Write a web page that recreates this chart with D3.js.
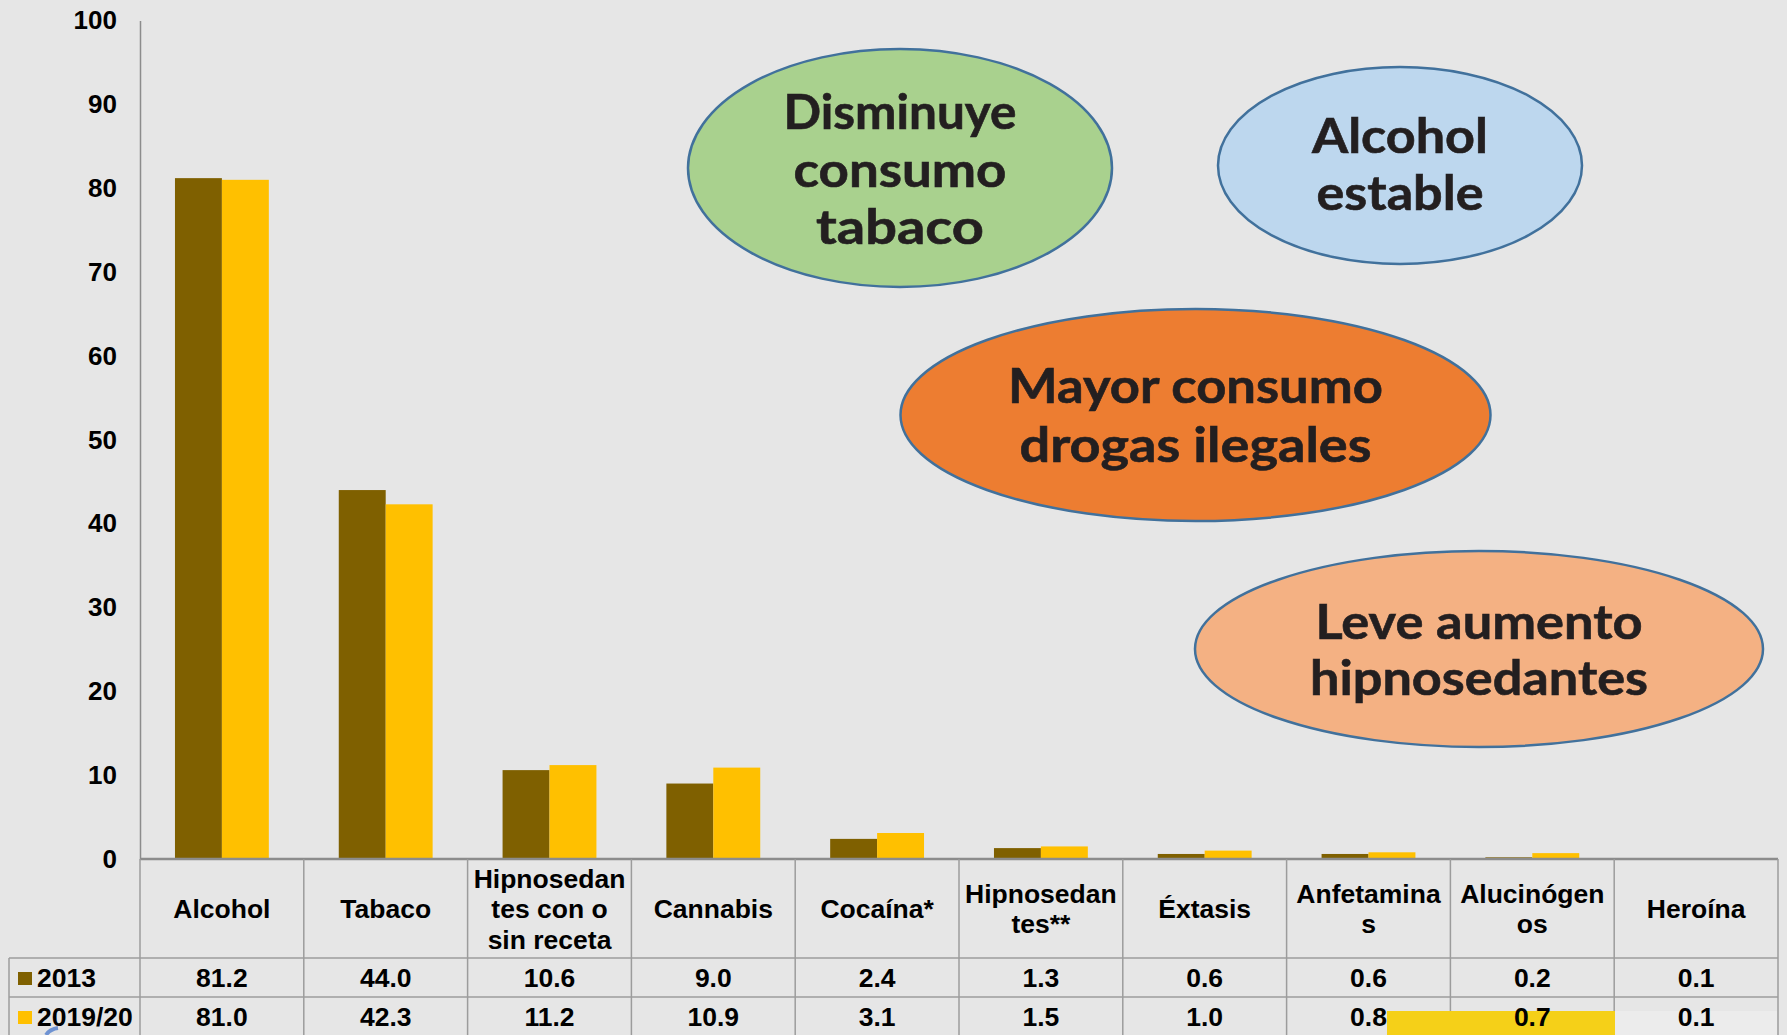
<!DOCTYPE html>
<html>
<head>
<meta charset="utf-8">
<script src="https://cdn.jsdelivr.net/npm/d3@7"></script>
<style>
  body { margin: 0; background: #e6e6e6; overflow: hidden; }
  svg { display: block; }
</style>
</head>
<body>
<div id="chart"></div>
<script>
// data
var categories = ["Alcohol", "Tabaco", "Hipnosedantes con o sin receta", "Cannabis", "Cocaína*",
                  "Hipnosedantes**", "Éxtasis", "Anfetaminas", "Alucinógenos", "Heroína"];
var categoryLines = [["Alcohol"], ["Tabaco"], ["Hipnosedan", "tes con o", "sin receta"], ["Cannabis"],
                     ["Cocaína*"], ["Hipnosedan", "tes**"], ["Éxtasis"], ["Anfetamina", "s"],
                     ["Alucinógen", "os"], ["Heroína"]];
var series = ["2013", "2019/20"];
var values2013 = [81.2, 44.0, 10.6, 9.0, 2.4, 1.3, 0.6, 0.6, 0.2, 0.1];
var values2019 = [81.0, 42.3, 11.2, 10.9, 3.1, 1.5, 1.0, 0.8, 0.7, 0.1];
var seriesColors = ["#7f6000", "#ffc000"];
var yTicks = [0, 10, 20, 30, 40, 50, 60, 70, 80, 90, 100];

var bubbles = [
  { lines: ["Disminuye", "consumo", "tabaco"], cx: 900, cy: 168, rx: 212, ry: 119, fill: "#a9d18e",
    base: 129, step: 57.5, widths: [233, 213, 168] },
  { lines: ["Alcohol", "estable"], cx: 1400, cy: 165.5, rx: 182, ry: 98.5, fill: "#bdd7ee",
    base: 153, step: 57, widths: [176, 167] },
  { lines: ["Mayor consumo", "drogas ilegales"], cx: 1195.5, cy: 415, rx: 295, ry: 106, fill: "#ed7d31",
    base: 403, step: 59, widths: [375, 352] },
  { lines: ["Leve aumento", "hipnosedantes"], cx: 1479, cy: 649, rx: 284, ry: 98, fill: "#f4b183",
    base: 639, step: 56, widths: [327, 338] }
];

var width = 1787, height = 1035;
var svg = d3.select("#chart").append("svg").attr("width", width).attr("height", height);
svg.append("rect").attr("width", width).attr("height", height).attr("fill", "#e6e6e6");

var plotLeft = 140, plotRight = 1778, plotTop = 20.5, plotBottom = 859;
var tableLeft = 9, row1 = 958, row2 = 997;
var fontTable = "'Liberation Sans', Arial, sans-serif";

var x0 = d3.scaleBand().domain(categories).range([plotLeft, plotRight]);
var bw = x0.bandwidth();
var x1 = d3.scaleBand().domain(series).range([bw * 0.2135, bw * 0.7865]);
var y = d3.scaleLinear().domain([0, 100]).range([plotBottom, plotTop]);

// bars
var rows = categories.map(function(c, i) { return { cat: c, vals: [values2013[i], values2019[i]] }; });
var groups = svg.selectAll(".grp").data(rows).enter().append("g")
  .attr("transform", function(d) { return "translate(" + x0(d.cat) + ",0)"; });
groups.selectAll("rect").data(function(d) { return d.vals.map(function(v, j) { return { s: series[j], v: v, j: j }; }); })
  .enter().append("rect")
  .attr("x", function(d) { return x1(d.s); })
  .attr("width", x1.bandwidth())
  .attr("y", function(d) { return y(d.v); })
  .attr("height", function(d) { return y(0) - y(d.v); })
  .attr("fill", function(d) { return seriesColors[d.j]; });

// y axis
var yAxis = svg.append("g").attr("transform", "translate(" + plotLeft + ",0)")
  .call(d3.axisLeft(y).tickValues(yTicks).tickSize(0).tickSizeOuter(0).tickPadding(23));
yAxis.select(".domain").attr("stroke", "#8c8c8c").attr("stroke-width", 1.5);
yAxis.selectAll("text").attr("font-family", fontTable).attr("font-weight", "bold")
  .attr("font-size", 26).attr("fill", "#000");

// data table
var grid = svg.append("g").attr("stroke", "#9c9c9c").attr("stroke-width", 1.5).attr("fill", "none");
grid.append("line").attr("x1", plotLeft).attr("x2", plotRight).attr("y1", plotBottom).attr("y2", plotBottom)
  .attr("stroke", "#8c8c8c").attr("stroke-width", 2.5);
grid.selectAll(".vl").data(categories).enter().append("line")
  .attr("x1", function(d) { return x0(d); }).attr("x2", function(d) { return x0(d); })
  .attr("y1", plotBottom).attr("y2", height);
grid.append("line").attr("x1", plotRight).attr("x2", plotRight).attr("y1", plotBottom).attr("y2", height);
grid.append("line").attr("x1", tableLeft).attr("x2", tableLeft).attr("y1", row1).attr("y2", height);
[row1, row2].forEach(function(r) {
  grid.append("line").attr("x1", tableLeft).attr("x2", plotRight).attr("y1", r).attr("y2", r);
});

// highlight patches at the bottom
svg.append("rect").attr("x", 1387).attr("y", 1011).attr("width", 228).attr("height", 24).attr("fill", "#f5d018");
svg.append("rect").attr("x", 1615).attr("y", 1011).attr("width", 162).attr("height", 24).attr("fill", "#ececec");
svg.append("path").attr("d", "M46,1035 Q50,1029 58,1028").attr("stroke", "#6f93d2").attr("stroke-width", 4)
  .attr("fill", "none");

// header labels
var header = svg.append("g").attr("font-family", fontTable).attr("font-weight", "bold")
  .attr("font-size", 26.5).attr("text-anchor", "middle").attr("fill", "#000");
categories.forEach(function(c, i) {
  var lines = categoryLines[i];
  var first = 918 - (lines.length - 1) * 30.5 / 2;
  lines.forEach(function(l, k) {
    header.append("text").attr("x", x0(c) + bw / 2).attr("y", first + k * 30.5).text(l);
  });
});

// values rows
var allVals = [values2013, values2019];
var baselines = [987, 1026];
allVals.forEach(function(vals, j) {
  header.selectAll(".v" + j).data(vals).enter().append("text")
    .attr("x", function(d, i) { return x0(categories[i]) + bw / 2; })
    .attr("y", baselines[j])
    .text(function(d) { return d.toFixed(1); });
  svg.append("rect").attr("x", 18).attr("y", baselines[j] - 15).attr("width", 14).attr("height", 13)
    .attr("fill", seriesColors[j]);
  svg.append("text").attr("x", 37).attr("y", baselines[j]).attr("font-family", fontTable)
    .attr("font-weight", "bold").attr("font-size", 26.5).attr("fill", "#000").text(series[j]);
});

// annotation bubbles
bubbles.forEach(function(b) {
  svg.append("ellipse").attr("cx", b.cx).attr("cy", b.cy).attr("rx", b.rx).attr("ry", b.ry)
    .attr("fill", b.fill).attr("stroke", "#41719c").attr("stroke-width", 2.5);
  b.lines.forEach(function(l, k) {
    svg.append("text").attr("x", b.cx).attr("y", b.base + k * b.step)
      .attr("text-anchor", "middle").attr("font-family", "Lato, 'Open Sans', sans-serif")
      .attr("font-weight", 700).attr("font-size", 47).attr("fill", "#231f20")
      .attr("stroke", "#231f20").attr("stroke-width", 0.6)
      .attr("textLength", b.widths[k]).attr("lengthAdjust", "spacingAndGlyphs")
      .text(l);
  });
});
</script>
</body>
</html>
